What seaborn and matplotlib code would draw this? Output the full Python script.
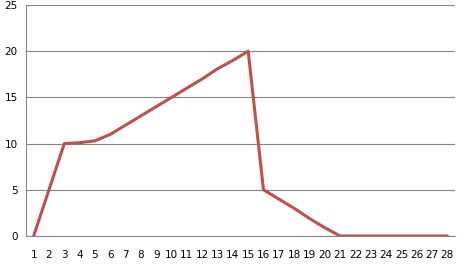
import matplotlib
matplotlib.use("Agg")
import matplotlib.pyplot as plt
import seaborn as sns
import pandas as pd
import numpy as np

categories = [str(i) for i in range(1, 29)]
values = [0, 5, 10, 10.1, 10.3, 11, 12, 13, 14, 15, 16, 17, 18.1, 19, 20,
          5, 4, 3, 1.9, 0.9, 0, 0, 0, 0, 0, 0, 0, 0]
yticks = [0, 5, 10, 15, 20, 25]

sns.set_style("white")
plt.rcParams['font.family'] = ['DejaVu Sans']

df = pd.DataFrame({"pos": np.arange(len(categories)), "value": values})

fig = plt.figure(figsize=(4.61, 2.68), dpi=100)
ax = fig.add_axes([26/461, 32/268, 429/461, 231/268])
sns.lineplot(data=df, x="pos", y="value", ax=ax, color="#C0504D", linewidth=2.2)

ax.set_xlim(-0.5, len(categories) - 0.5)
ax.set_ylim(0, 25)
ax.set_yticks(yticks)
ax.set_yticklabels([str(t) for t in yticks], fontsize=7.5, color='black')
ax.set_xticks(np.arange(len(categories)))
ax.set_xticklabels(categories, fontsize=7.5, color='black')
ax.tick_params(axis='x', which='major', length=0, pad=10)
ax.set_xticks(np.arange(len(categories) + 1) - 0.5, minor=True)
ax.tick_params(axis='x', which='minor', length=4, color='#868686', width=0.8)
ax.tick_params(axis='y', which='major', length=4, color='#868686', width=0.8, pad=2)
ax.yaxis.grid(True, color='#868686', linewidth=0.8)
ax.set_axisbelow(True)
ax.set_xlabel("")
ax.set_ylabel("")
for s in ['top', 'right']:
    ax.spines[s].set_visible(False)
for s in ['left', 'bottom']:
    ax.spines[s].set_color('#868686')
    ax.spines[s].set_linewidth(0.8)

fig.savefig("out.png", dpi=100)
